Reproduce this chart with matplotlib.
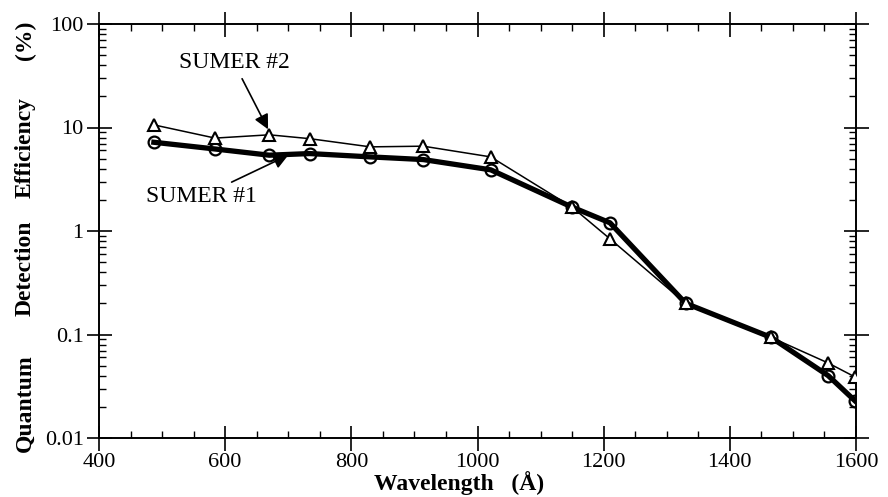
import matplotlib
matplotlib.use('Agg')
import matplotlib.pyplot as plt
from matplotlib.ticker import MultipleLocator, LogLocator, NullFormatter, FixedLocator, FixedFormatter

# ---- data ----
wavelength = [487, 584, 670, 734, 830, 914, 1021, 1150, 1210, 1330, 1465, 1556, 1598]
sumer1 = [7.2, 6.2, 5.4, 5.6, 5.2, 4.9, 3.9, 1.7, 1.2, 0.20, 0.094, 0.040, 0.023]
sumer2 = [10.6, 7.9, 8.5, 7.8, 6.5, 6.6, 5.2, 1.7, 0.84, 0.20, 0.094, 0.053, 0.039]
x_ticks = [400, 600, 800, 1000, 1200, 1400, 1600]
y_ticks = [0.01, 0.1, 1, 10, 100]
y_tick_labels = ['0.01', '0.1', '1', '10', '100']

plt.rcParams['font.family'] = ['Liberation Serif', 'DejaVu Serif']

fig = plt.figure(figsize=(8.88, 4.97), dpi=100)
W, H = 888, 497
left, right, top, bottom = 99, 856, 24, 438
ax = fig.add_axes([left / W, 1 - bottom / H, (right - left) / W, (bottom - top) / H])

ax.plot(wavelength, sumer1, color='black', lw=3.8, marker='o', ms=8.5,
        mfc='none', mec='black', mew=1.6, zorder=3)
ax.plot(wavelength, sumer2, color='black', lw=1.1, marker='^', ms=9,
        mfc='white', mec='black', mew=1.5, zorder=4)

ax.set_yscale('log')
ax.set_xlim(400, 1600)
ax.set_ylim(0.01, 100)

ax.xaxis.set_major_locator(FixedLocator(x_ticks))
ax.xaxis.set_minor_locator(MultipleLocator(50))
ax.yaxis.set_major_locator(FixedLocator(y_ticks))
ax.yaxis.set_major_formatter(FixedFormatter(y_tick_labels))
ax.yaxis.set_minor_locator(LogLocator(base=10, subs=range(2, 10), numticks=20))
ax.yaxis.set_minor_formatter(NullFormatter())

ax.tick_params(which='major', direction='inout', length=18, width=1.2,
               top=True, right=True, labelsize=16, pad=2)
ax.tick_params(which='minor', direction='in', length=5, width=1.0,
               top=True, right=True)
for s in ax.spines.values():
    s.set_linewidth(1.4)

# axis titles
fig.text(459 / W, 1 - 483 / H, 'Wavelength   (Å)', ha='center', va='center',
         fontsize=17, fontweight='bold')
for word, yc in [('Quantum', 403), ('Detection', 268), ('Efficiency', 148), ('(%)', 40)]:
    fig.text(25 / W, 1 - yc / H, word, rotation=90, ha='center', va='center',
             fontsize=17, fontweight='bold')

# annotations
ax.annotate('SUMER #2', xy=(668, 9.6), xytext=(614, 42), ha='center', va='center',
            fontsize=17,
            arrowprops=dict(arrowstyle='-|>', color='black', lw=1.2, mutation_scale=22,
                            shrinkA=2, shrinkB=0))
ax.annotate('SUMER #1', xy=(700, 5.4), xytext=(562, 2.15), ha='center', va='center',
            fontsize=17,
            arrowprops=dict(arrowstyle='-|>', color='black', lw=1.2, mutation_scale=22,
                            shrinkA=2, shrinkB=0))

fig.savefig('out.png', dpi=100)
